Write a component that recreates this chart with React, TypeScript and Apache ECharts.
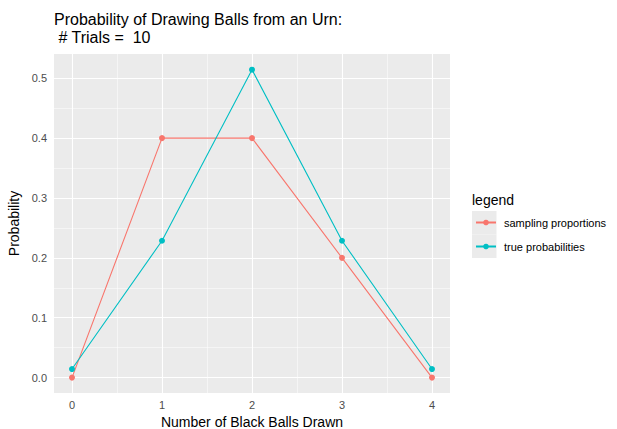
import React, { useEffect, useRef } from "react";
import * as echarts from "echarts";

const categories = [0, 1, 2, 3, 4];
const samplingProportions = [0, 0.4, 0.4, 0.2, 0];
const trueProbabilities = [0.0143, 0.2286, 0.5143, 0.2286, 0.0143];
const yTicks = [0, 0.1, 0.2, 0.3, 0.4, 0.5];
const yMinor = [0.05, 0.15, 0.25, 0.35, 0.45];
const xMinor = [0.5, 1.5, 2.5, 3.5];

export default function App() {
  const ref = useRef<HTMLDivElement>(null);
  useEffect(() => {
    const chart = echarts.init(ref.current!, null, { renderer: "svg" });
    const font = "Liberation Sans, Arial, sans-serif";
    const gridLines = [
      ...categories.map((v) => ({ xAxis: v, lineStyle: { width: 1.1 } })),
      ...xMinor.map((v) => ({ xAxis: v, lineStyle: { width: 0.5 } })),
      ...yTicks.map((v) => ({ yAxis: v, lineStyle: { width: 1.1 } })),
      ...yMinor.map((v) => ({ yAxis: v, lineStyle: { width: 0.5 } })),
    ];
    chart.setOption({
      animation: false,
      textStyle: { fontFamily: font },
      title: [
        {
          text: "Probability of Drawing Balls from an Urn:\n # Trials =  10",
          left: 49,
          top: 5,
          textStyle: { fontSize: 16, fontWeight: "normal", color: "#000", lineHeight: 18, fontFamily: font },
        },
        {
          text: "legend",
          left: 467,
          top: 188,
          textStyle: { fontSize: 14, fontWeight: "normal", color: "#000", fontFamily: font },
        },
      ],
      graphic: [
        { type: "rect", left: 472, top: 211, shape: { width: 24.5, height: 23.5 }, style: { fill: "#EBEBEB" }, z: 0 },
        { type: "rect", left: 472, top: 234.5, shape: { width: 24.5, height: 23.5 }, style: { fill: "#EBEBEB" }, z: 0 },
      ],
      legend: {
        orient: "vertical",
        left: 470,
        top: 211,
        padding: 5,
        itemWidth: 20,
        itemHeight: 7,
        itemGap: 11,
        textStyle: { fontSize: 11, color: "#000", fontFamily: font, lineHeight: 13, padding: [0, 0, 0, 3] },
        data: ["sampling proportions", "true probabilities"],
      },
      grid: {
        left: 54,
        top: 54,
        right: 167,
        bottom: 36,
        show: true,
        backgroundColor: "#EBEBEB",
        borderWidth: 0,
        containLabel: false,
        outerBoundsMode: "none",
      },
      xAxis: {
        type: "value",
        min: -0.2,
        max: 4.2,
        axisLine: { show: false },
        axisTick: { show: true, customValues: categories, length: 4, lineStyle: { color: "#333", width: 1 } },
        axisLabel: { customValues: categories, color: "#4D4D4D", fontSize: 11, margin: 6 },
        splitLine: { show: false },
        name: "Number of Black Balls Drawn",
        nameLocation: "middle",
        nameGap: 21,
        nameTextStyle: { fontSize: 14, color: "#000" },
      },
      yAxis: {
        type: "value",
        min: -0.0257,
        max: 0.5405,
        axisLine: { show: false },
        axisTick: { show: true, customValues: yTicks, length: 4, lineStyle: { color: "#333", width: 1 } },
        axisLabel: {
          customValues: yTicks,
          color: "#4D4D4D",
          fontSize: 11,
          margin: 7,
          formatter: (v: number) => v.toFixed(1),
        },
        splitLine: { show: false },
        name: "Probability",
        nameLocation: "middle",
        nameGap: 27,
        nameTextStyle: { fontSize: 14, color: "#000" },
      },
      series: [
        {
          type: "line",
          name: "grid",
          data: [],
          silent: true,
          z: 1,
          markLine: {
            silent: true,
            z: 1,
            symbol: "none",
            label: { show: false },
            lineStyle: { color: "#FFFFFF", type: "solid" },
            data: gridLines,
          },
        },
        {
          type: "line",
          name: "sampling proportions",
          data: categories.map((c, i) => [c, samplingProportions[i]]),
          color: "#F8766D",
          symbol: "circle",
          symbolSize: 6,
          lineStyle: { width: 1.1 },
          z: 3,
        },
        {
          type: "line",
          name: "true probabilities",
          data: categories.map((c, i) => [c, trueProbabilities[i]]),
          color: "#00BFC4",
          symbol: "circle",
          symbolSize: 6,
          lineStyle: { width: 1.1 },
          z: 4,
        },
      ],
    });
    return () => chart.dispose();
  }, []);
  return <div ref={ref} style={{ width: 617, height: 429, position: "absolute", left: 0, top: 0 }} />;
}
